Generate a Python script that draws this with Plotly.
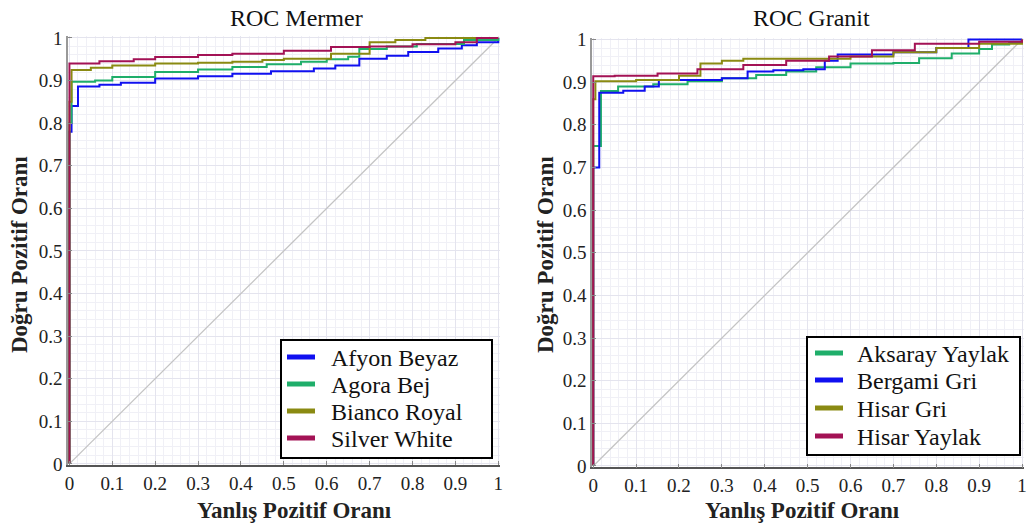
import plotly.graph_objects as go

# ---------------- data ----------------
ticks = [0, 0.1, 0.2, 0.3, 0.4, 0.5, 0.6, 0.7, 0.8, 0.9, 1]
tick_labels = ["0", "0.1", "0.2", "0.3", "0.4", "0.5", "0.6", "0.7", "0.8", "0.9", "1"]

# ROC Mermer
afyon_fpr = [0, 0, 0.005, 0.02, 0.07, 0.12, 0.2, 0.3, 0.38, 0.47, 0.57, 0.62, 0.676, 0.74, 0.79, 0.86, 0.915, 0.95, 0.985, 1]
afyon_tpr = [0, 0.78, 0.84, 0.886, 0.89, 0.895, 0.905, 0.91, 0.916, 0.922, 0.928, 0.935, 0.951, 0.958, 0.967, 0.975, 0.983, 0.99, 0.99, 1]

agora_fpr = [0, 0, 0.005, 0.06, 0.1, 0.2, 0.3, 0.38, 0.46, 0.54, 0.6, 0.65, 0.676, 0.74, 0.81, 0.92, 0.97, 1]
agora_tpr = [0, 0.8, 0.897, 0.9, 0.908, 0.92, 0.926, 0.932, 0.938, 0.944, 0.95, 0.956, 0.974, 0.98, 0.986, 0.995, 0.995, 1]

bianco_fpr = [0, 0, 0.005, 0.05, 0.1, 0.2, 0.3, 0.38, 0.45, 0.5, 0.61, 0.7, 0.76, 0.83, 1]
bianco_tpr = [0, 0.85, 0.925, 0.93, 0.935, 0.94, 0.942, 0.944, 0.948, 0.951, 0.963, 0.99, 0.995, 1.0, 1]

silver_fpr = [0, 0, 0.07, 0.15, 0.2, 0.3, 0.38, 0.5, 0.61, 0.7, 0.8, 0.9, 0.95, 1]
silver_tpr = [0, 0.94, 0.945, 0.95, 0.955, 0.96, 0.963, 0.97, 0.979, 0.98, 0.985, 0.99, 1.0, 1]

# ROC Granit
aksaray_fpr = [0, 0, 0.018, 0.058, 0.14, 0.22, 0.3, 0.38, 0.45, 0.52, 0.6, 0.7, 0.76, 0.836, 0.9, 0.93, 0.97, 1]
aksaray_tpr = [0, 0.75, 0.879, 0.89, 0.895, 0.902, 0.909, 0.917, 0.925, 0.935, 0.944, 0.945, 0.956, 0.967, 0.978, 0.988, 0.992, 1]

bergami_fpr = [0, 0, 0.014, 0.07, 0.12, 0.153, 0.3, 0.36, 0.42, 0.49, 0.54, 0.57, 0.7, 0.8, 0.875, 1]
bergami_tpr = [0, 0.7, 0.875, 0.88, 0.89, 0.905, 0.909, 0.925, 0.928, 0.93, 0.95, 0.965, 0.97, 0.98, 1.0, 1]

hisargri_fpr = [0, 0, 0.005, 0.1, 0.2, 0.25, 0.3, 0.35, 0.6, 0.7, 0.8, 0.9, 1]
hisargri_tpr = [0, 0.86, 0.902, 0.905, 0.915, 0.944, 0.95, 0.955, 0.96, 0.97, 0.98, 0.99, 1]

hisaryay_fpr = [0, 0, 0.05, 0.15, 0.243, 0.35, 0.45, 0.55, 0.65, 0.75, 0.9, 1]
hisaryay_tpr = [0, 0.914, 0.915, 0.92, 0.93, 0.94, 0.95, 0.96, 0.975, 0.99, 0.995, 1]

diag = [0, 1]

left_title = "ROC Mermer"
right_title = "ROC Granit"
x_title = "Yanlış Pozitif Oranı"
y_title = "Doğru Pozitif Oranı"

# ---------------- styles ----------------
BLUE = "#1010f0"
GREEN = "#1fae6a"
OLIVE = "#8a8a12"
MAROON = "#a31255"
FONT = "Liberation Serif, Times New Roman, Times, serif"
W, H = 1032, 525


def px(x):
    return x / W


def py(y):
    return 1 - y / H


fig = go.Figure()

left = [
    ("Afyon Beyaz", afyon_fpr, afyon_tpr, BLUE),
    ("Agora Bej", agora_fpr, agora_tpr, GREEN),
    ("Bianco Royal", bianco_fpr, bianco_tpr, OLIVE),
    ("Silver White", silver_fpr, silver_tpr, MAROON),
]
right = [
    ("Aksaray Yaylak", aksaray_fpr, aksaray_tpr, GREEN),
    ("Bergami Gri", bergami_fpr, bergami_tpr, BLUE),
    ("Hisar Gri", hisargri_fpr, hisargri_tpr, OLIVE),
    ("Hisar Yaylak", hisaryay_fpr, hisaryay_tpr, MAROON),
]

for xa, ya, series in [("x", "y", left), ("x2", "y2", right)]:
    fig.add_trace(go.Scatter(x=diag, y=diag, mode="lines", xaxis=xa, yaxis=ya,
                             line=dict(color="#c4c4c4", width=1.3), showlegend=False,
                             hoverinfo="skip"))
    for name, fx, ty, col in series:
        fig.add_trace(go.Scatter(x=fx, y=ty, mode="lines", line_shape="hv", xaxis=xa, yaxis=ya,
                                 line=dict(color=col, width=2), name=name, showlegend=False))

axis_common = dict(
    range=[-0.003, 1.004], tickvals=ticks, ticktext=tick_labels,
    showgrid=True, gridcolor="#e4e4ee", gridwidth=1,
    minor=dict(dtick=0.02, showgrid=True, gridcolor="#f0f0f6", gridwidth=1),
    zeroline=False, ticks="inside", ticklen=4, tickcolor="#888",
    tickfont=dict(family=FONT, size=19, color="#222"),
    fixedrange=True, automargin=False,
)

shapes = []
annotations = []

# legends (boxed, drawn at pixel positions of the reference)
legend_specs = [
    (left, 281, 492, 340, 458, 287, 315, 329, [357, 384, 411, 438]),
    (right, 807, 1020, 337, 455, 815, 843, 855, [353, 380, 408, 436]),
]
for series, bx0, bx1, by0, by1, lx0, lx1, tx, rows in legend_specs:
    shapes.append(dict(type="rect", xref="paper", yref="paper",
                       x0=px(bx0), x1=px(bx1), y0=py(by1), y1=py(by0),
                       line=dict(color="black", width=2), fillcolor="white", layer="above"))
    for (name, _, _, col), ry in zip(series, rows):
        shapes.append(dict(type="line", xref="paper", yref="paper",
                           x0=px(lx0), x1=px(lx1), y0=py(ry), y1=py(ry),
                           line=dict(color=col, width=5), layer="above"))
        annotations.append(dict(text=name, x=px(tx), y=py(ry + 1), xref="paper", yref="paper",
                                xanchor="left", yanchor="middle", showarrow=False,
                                font=dict(family=FONT, size=24, color="#111")))

# titles
for t, cx in [(left_title, 296), (right_title, 811)]:
    annotations.append(dict(text=t, x=px(cx), y=py(18), xref="paper", yref="paper",
                            showarrow=False, xanchor="center", yanchor="middle",
                            font=dict(family=FONT, size=24, color="#111")))
for cx in [294, 802]:
    annotations.append(dict(text="<b>" + x_title + "</b>", x=px(cx), y=py(510), xref="paper",
                            yref="paper", showarrow=False, xanchor="center", yanchor="middle",
                            font=dict(family=FONT, size=23, color="#222")))
for cx in [19, 545]:
    annotations.append(dict(text="<b>" + y_title + "</b>", x=px(cx), y=py(255), xref="paper",
                            yref="paper", showarrow=False, xanchor="center", yanchor="middle",
                            textangle=-90, font=dict(family=FONT, size=23, color="#222")))

fig.update_layout(
    width=W, height=H,
    margin=dict(l=0, r=0, t=0, b=0),
    paper_bgcolor="white", plot_bgcolor="white",
    showlegend=False,
    xaxis=dict(domain=[0.066, 0.4845], anchor="y", showline=True, linecolor="#555", linewidth=1.5,
               **axis_common),
    yaxis=dict(domain=[0.114, 0.931], anchor="x", showline=True, linecolor="#999", linewidth=1.5,
               **axis_common),
    xaxis2=dict(domain=[0.5736, 0.992], anchor="y2", showline=True, linecolor="#555", linewidth=1.5,
                **axis_common),
    yaxis2=dict(domain=[0.11, 0.928], anchor="x2", showline=True, linecolor="#999", linewidth=1.5,
                **axis_common),
    shapes=shapes,
    annotations=annotations,
)

fig.write_html("out.html", config={"displayModeBar": False},
               post_script="document.body.style.margin='0px';")
